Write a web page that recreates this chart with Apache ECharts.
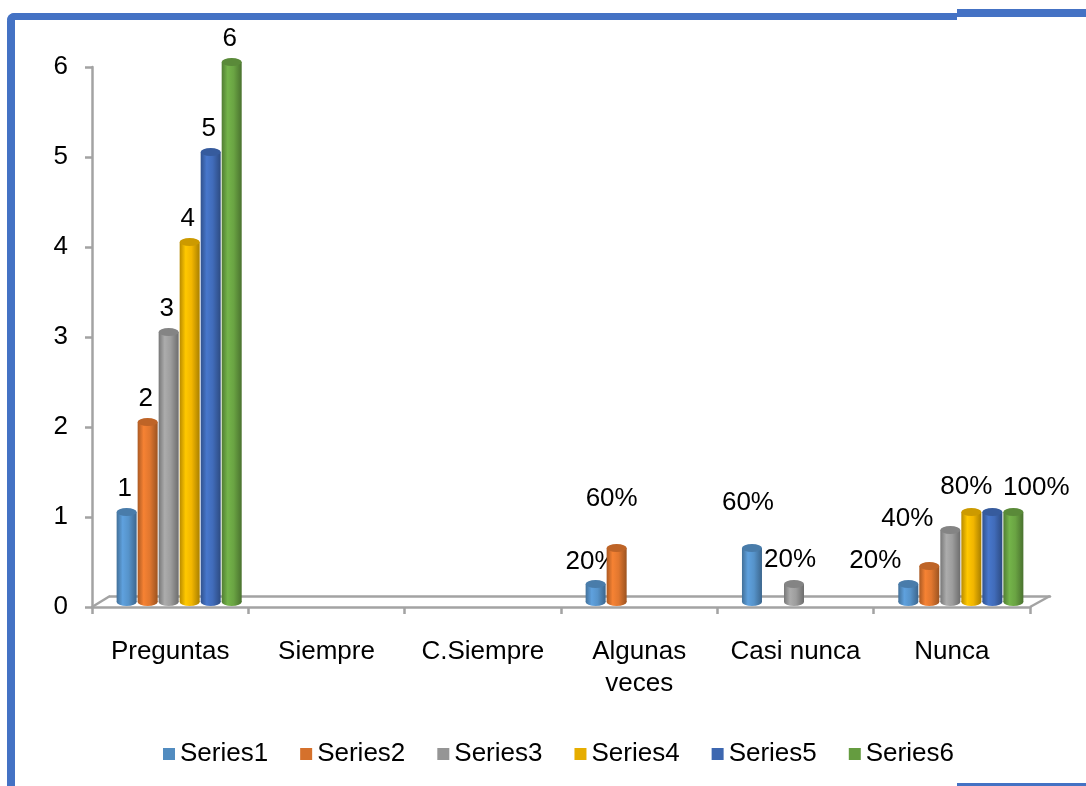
<!DOCTYPE html>
<html>
<head>
<meta charset="utf-8">
<script src="https://cdn.jsdelivr.net/npm/echarts@6/dist/echarts.min.js"></script>
<style>
  html, body { margin: 0; padding: 0; background: #ffffff; }
  #chart { width: 1086px; height: 786px; }
</style>
</head>
<body>
<div id="chart"></div>
<script>
// Categories along the floor of the 3D column chart
const categories = ['Preguntas', 'Siempre', 'C.Siempre', 'Algunas\nveces', 'Casi nunca', 'Nunca'];
const seriesNames = ['Series1', 'Series2', 'Series3', 'Series4', 'Series5', 'Series6'];

// Series values per category (null = no column drawn)
const series1 = [1, null, null, 0.2, 0.6, 0.2];
const series2 = [2, null, null, 0.6, null, 0.4];
const series3 = [3, null, null, null, 0.2, 0.8];
const series4 = [4, null, null, null, null, 1];
const series5 = [5, null, null, null, null, 1];
const series6 = [6, null, null, null, null, 1];
const allSeries = [series1, series2, series3, series4, series5, series6];

// Value axis ticks
const yTicks = [0, 1, 2, 3, 4, 5, 6];

// ---- styling / layout ----
const palette = ['#5B9BD5', '#ED7D31', '#A5A5A5', '#FFC000', '#4472C4', '#70AD47'];
const FONT = '"Liberation Sans", Arial, sans-serif';
const FS = 26;
const AXIS_GRAY = '#A3A3A3';

// Front floor edge (visible axes), column plane (mid depth), back floor edge
const front = { left: 92, right: 56, top: 67, bottom: 179 };
const mid = { left: 101, right: 47, top: 62, bottom: 184 };
const back = { left: 110, right: 36, top: 57, bottom: 190 };

// Value-label placement tweaks, keyed "series,category"; null hides the label
const labelNudge = {
  '0,3': [-2, 1], '1,3': [-3, -26],
  '0,4': [-2, -22], '2,4': [-2, -1],
  '0,5': [-31, 0], '1,5': [-20, -24], '2,5': [18, -20],
  '3,5': null, '4,5': null, '5,5': [25, -1]
};

function shade(hex, f) {
  const n = parseInt(hex.slice(1), 16);
  const c = [(n >> 16) & 255, (n >> 8) & 255, n & 255].map(v => Math.max(0, Math.min(255, Math.round(v * f))));
  return 'rgb(' + c.join(',') + ')';
}

function labelText(cat, v) {
  return cat === 0 ? String(v) : Math.round(v * 100) + '%';
}

function cylinderRenderer(si) {
  return function (params, api) {
    const c = api.value(0);
    const v = api.value(1);
    const base = api.coord([c, 0]);
    const top = api.coord([c, v]);
    const band = api.size([1, 0])[0];
    const step = band * 0.1344;
    const bw = band * 0.128;
    const cx = base[0] + (si - 2.5) * step;
    const rx = bw / 2;
    const ry = 4;
    const col = palette[si];
    const body = () => new echarts.graphic.LinearGradient(0, 0, 1, 0, [
      { offset: 0, color: shade(col, 0.72) },
      { offset: 0.3, color: shade(col, 1.04) },
      { offset: 0.6, color: shade(col, 0.95) },
      { offset: 1, color: shade(col, 0.66) }
    ]);
    const children = [
      { type: 'circle', shape: { cx: 0, cy: 0, r: rx }, x: cx, y: base[1], scaleY: ry / rx,
        style: { fill: body() } },
      { type: 'rect', shape: { x: cx - rx, y: top[1], width: bw, height: base[1] - top[1] },
        style: { fill: body() } },
      { type: 'circle', shape: { cx: 0, cy: 0, r: rx }, x: cx, y: top[1], scaleY: ry / rx,
        style: { fill: shade(col, 0.8) } }
    ];
    const key = si + ',' + c;
    const nudge = key in labelNudge ? labelNudge[key] : [0, 0];
    if (nudge) {
      children.push({
        type: 'text',
        x: cx - 2 + nudge[0],
        y: top[1] - 23 + nudge[1],
        style: {
          text: labelText(c, v), fill: '#000000', font: FS + 'px ' + FONT,
          align: 'center', verticalAlign: 'middle',
          textAlign: 'center', textVerticalAlign: 'middle'
        }
      });
    }
    return { type: 'group', children: children };
  };
}

const chart = echarts.init(document.getElementById('chart'), null, { renderer: 'canvas' });

const option = {
  animation: false,
  backgroundColor: '#ffffff',
  textStyle: { fontFamily: FONT },
  grid: [
    Object.assign({ containLabel: false }, front),
    Object.assign({ containLabel: false }, mid),
    Object.assign({ containLabel: false }, back)
  ],
  xAxis: [
    {
      type: 'category', gridIndex: 0, data: categories, boundaryGap: true,
      axisLine: { show: true, lineStyle: { color: AXIS_GRAY, width: 2.5 } },
      axisTick: { show: true, length: 7, alignWithLabel: false, lineStyle: { color: AXIS_GRAY, width: 2.5 } },
      axisLabel: { color: '#000000', fontSize: FS, fontFamily: FONT, margin: 29, lineHeight: 32, interval: 0 },
      splitLine: { show: false }
    },
    { type: 'category', gridIndex: 1, data: categories, show: false },
    {
      type: 'category', gridIndex: 2, data: categories,
      axisLine: { show: true, lineStyle: { color: AXIS_GRAY, width: 2.5 } },
      axisTick: { show: false }, axisLabel: { show: false }, splitLine: { show: false }
    }
  ],
  yAxis: [
    {
      type: 'value', gridIndex: 0, min: yTicks[0], max: yTicks[yTicks.length - 1], interval: 1,
      axisLine: { show: true, lineStyle: { color: AXIS_GRAY, width: 2.5 } },
      axisTick: { show: true, length: 7, lineStyle: { color: AXIS_GRAY, width: 2.5 } },
      axisLabel: { color: '#000000', fontSize: FS, fontFamily: FONT, margin: 24, padding: [3, 0, 0, 0] },
      splitLine: { show: false }
    },
    { type: 'value', gridIndex: 1, min: yTicks[0], max: yTicks[yTicks.length - 1], interval: 1, show: false },
    { type: 'value', gridIndex: 2, min: 0, max: 6, show: false }
  ],
  legend: {
    data: seriesNames,
    left: 158, top: 736,
    icon: 'rect', itemWidth: 12, itemHeight: 12, itemGap: 32,
    textStyle: { color: '#000000', fontSize: FS, fontFamily: FONT }
  },
  graphic: [
    // floor side edges joining the front and back floor lines
    { type: 'line', z: 1, shape: { x1: front.left, y1: 786 - front.bottom, x2: back.left, y2: 786 - back.bottom },
      style: { stroke: AXIS_GRAY, lineWidth: 2.5 } },
    { type: 'line', z: 1, shape: { x1: 1086 - front.right, y1: 786 - front.bottom, x2: 1086 - back.right, y2: 786 - back.bottom },
      style: { stroke: AXIS_GRAY, lineWidth: 2.5 } },
    // blue frame
    { type: 'rect', z: 10, shape: { x: 7, y: 13, width: 950, height: 7, r: [8, 0, 0, 0] }, style: { fill: '#4472C4' } },
    { type: 'rect', z: 10, shape: { x: 7, y: 13, width: 8, height: 773, r: [8, 0, 0, 0] }, style: { fill: '#4472C4' } },
    { type: 'rect', z: 10, shape: { x: 957, y: 9, width: 129, height: 8 }, style: { fill: '#4472C4' } },
    { type: 'rect', z: 10, shape: { x: 957, y: 783, width: 129, height: 3 }, style: { fill: '#4472C4' } }
  ],
  series: allSeries.map((vals, si) => ({
    type: 'custom',
    name: seriesNames[si],
    xAxisIndex: 1, yAxisIndex: 1,
    clip: false,
    itemStyle: { color: shade(palette[si], 0.9) },
    renderItem: cylinderRenderer(si),
    data: vals.map((v, c) => (v == null ? null : [c, v])).filter(d => d !== null)
  }))
};

chart.setOption(option);
</script>
</body>
</html>
